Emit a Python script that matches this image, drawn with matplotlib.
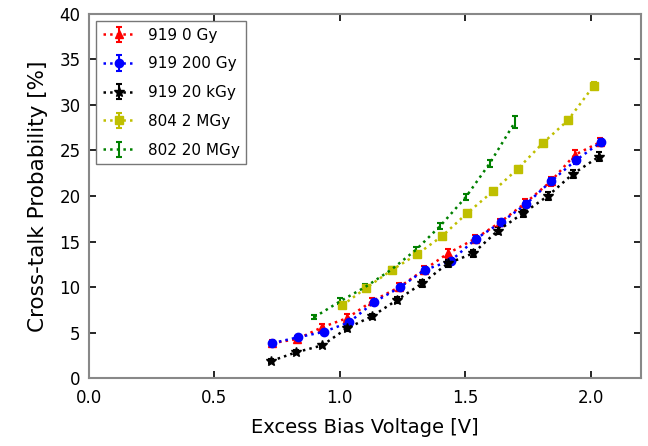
import numpy as np
import matplotlib.pyplot as plt

# 919 0 Gy
x_r = [0.732, 0.831, 0.930, 1.030, 1.129, 1.237, 1.336, 1.431, 1.539, 1.638, 1.738, 1.841, 1.936, 2.036]
y_r = [3.85, 4.3, 5.6, 6.6, 8.45, 10.0, 11.9, 13.7, 15.3, 17.1, 19.2, 21.6, 24.5, 25.9]
e_r = [0.35, 0.35, 0.35, 0.4, 0.4, 0.4, 0.45, 0.5, 0.4, 0.4, 0.45, 0.45, 0.55, 0.45]

# 919 200 Gy
x_b = [0.732, 0.835, 0.938, 1.038, 1.137, 1.241, 1.340, 1.443, 1.543, 1.642, 1.742, 1.841, 1.940, 2.040]
y_b = [3.85, 4.5, 5.1, 6.15, 8.35, 10.0, 11.9, 12.9, 15.3, 17.1, 19.1, 21.6, 23.9, 25.9]
e_b = [0.2, 0.2, 0.2, 0.25, 0.25, 0.25, 0.3, 0.3, 0.3, 0.3, 0.35, 0.35, 0.4, 0.4]

# 919 20 kGy
x_k = [0.728, 0.827, 0.930, 1.030, 1.129, 1.229, 1.328, 1.431, 1.531, 1.630, 1.730, 1.829, 1.928, 2.032]
y_k = [1.9, 2.85, 3.6, 5.5, 6.8, 8.6, 10.4, 12.6, 13.7, 16.2, 18.1, 20.0, 22.4, 24.3]
e_k = [0.2, 0.2, 0.2, 0.3, 0.3, 0.3, 0.35, 0.35, 0.35, 0.4, 0.4, 0.4, 0.45, 0.5]

# 804 2 MGy
x_y = [1.010, 1.105, 1.209, 1.308, 1.408, 1.507, 1.610, 1.710, 1.809, 1.909, 2.012]
y_y = [8.0, 9.9, 11.9, 13.6, 15.6, 18.1, 20.5, 23.0, 25.8, 28.3, 32.1]
e_y = [0.3, 0.3, 0.3, 0.3, 0.3, 0.3, 0.3, 0.35, 0.35, 0.4, 0.4]

# 802 20 MGy
x_g = [0.899, 1.002, 1.101, 1.205, 1.304, 1.400, 1.503, 1.598, 1.698]
y_g = [6.7, 8.45, 10.0, 11.9, 14.1, 16.7, 19.9, 23.6, 28.1]
e_g = [0.25, 0.3, 0.3, 0.3, 0.35, 0.35, 0.35, 0.4, 0.65]

fig = plt.figure(figsize=(6.48, 4.46), dpi=100)
ax = fig.add_axes([0.137, 0.152, 0.852, 0.817])

series = [
    (x_r, y_r, e_r, 'r', '^', 6, '919 0 Gy'),
    (x_b, y_b, e_b, 'b', 'o', 6, '919 200 Gy'),
    (x_k, y_k, e_k, 'k', '*', 7, '919 20 kGy'),
    (x_y, y_y, e_y, 'y', 's', 6, '804 2 MGy'),
    (x_g, y_g, e_g, 'g', '', 0, '802 20 MGy'),
]
for x, y, e, c, m, ms, lab in series:
    ax.errorbar(x, y, yerr=e, color=c, marker=m, markersize=ms, linestyle=':',
                linewidth=1.8, capsize=2.5, capthick=1.5, elinewidth=1.5, label=lab)

ax.set_xlim(0, 2.2)
ax.set_ylim(0, 40)
ax.set_xticks(np.arange(0, 2.01, 0.5))
ax.set_yticks(np.arange(0, 41, 5))
ax.tick_params(direction='in', length=5, width=1.2, top=True, right=True, labelsize=12)
ax.tick_params(axis='x', pad=8)
ax.tick_params(axis='y', pad=6)
for s in ax.spines.values():
    s.set_color('#888888')
    s.set_linewidth(1.5)

ax.set_xlabel('Excess Bias Voltage [V]', fontsize=14, labelpad=8)
ax.set_ylabel('Cross-talk Probability [%]', fontsize=15.5, labelpad=8)

leg = ax.legend(loc='upper left', fontsize=11, fancybox=False, borderaxespad=0.5,
                handlelength=2.2, numpoints=1, labelspacing=0.9)
leg.get_frame().set_edgecolor('#555555')

fig.savefig('out.png', dpi=100)
